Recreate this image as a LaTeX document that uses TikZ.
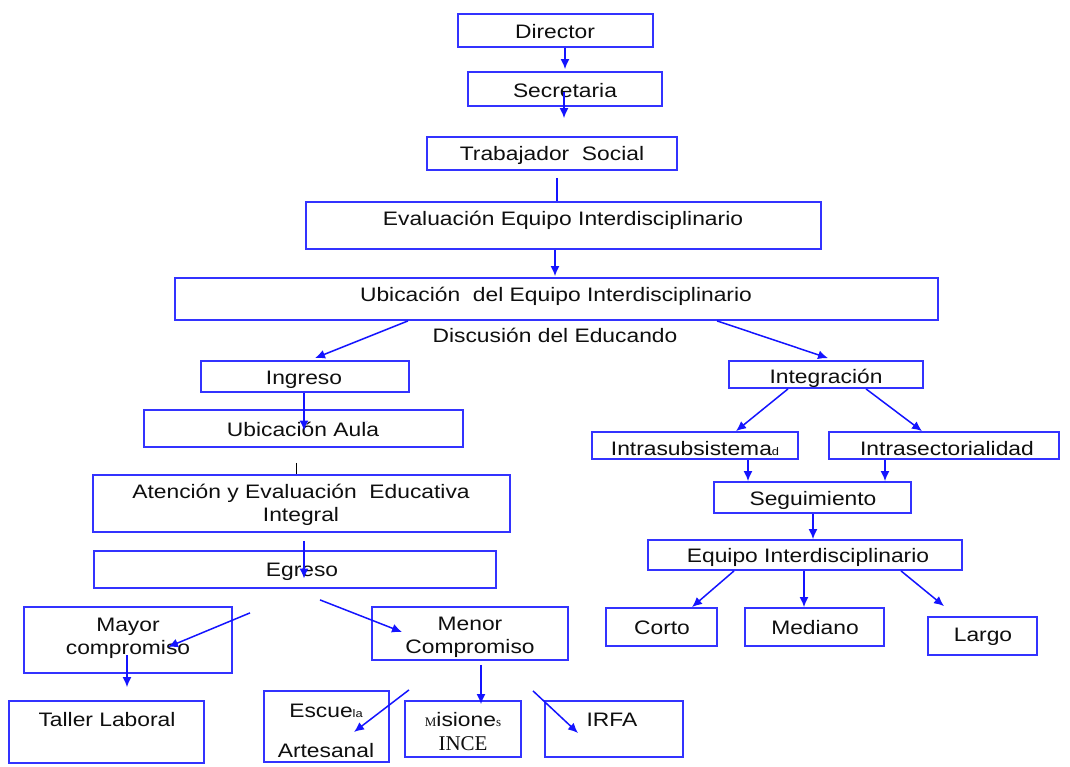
\documentclass[tikz,border=0pt]{standalone}
\usepackage{fontspec}
\setmainfont{Liberation Sans}[FakeStretch=1.17]
\newfontfamily\serifx{Liberation Serif}
\usetikzlibrary{arrows.meta,calc}
\definecolor{boxblue}{RGB}{51,51,255}
\definecolor{arrblue}{RGB}{20,20,255}
\definecolor{txt}{RGB}{15,15,15}
\tikzset{
  box/.style={draw=boxblue, line width=1.8pt, inner sep=0pt, text=txt, align=center,
    font=\fontsize{19.5}{23}\selectfont},
  lbl/.style={inner sep=0pt, text=txt, align=center, font=\fontsize{19.5}{23}\selectfont},
  arr/.style={draw=arrblue, line width=1.5pt, -{Latex[length=10pt,width=9pt]}},
  plain/.style={draw=arrblue, line width=1.5pt},
  blackline/.style={draw=black, line width=0.9pt},
}
\newcommand{\smallsans}[1]{{\fontsize{11}{11}\selectfont #1}}
\newcommand{\smallserif}[1]{{\serifx\fontsize{13}{13}\selectfont #1}}
\begin{document}
\begin{tikzpicture}[x=1pt,y=-1pt]
\useasboundingbox (0,0) rectangle (1070,767);
\fill[white] (0,0) rectangle (1070,767);
% boxes
\node[box, minimum width=195pt, minimum height=33pt] (dir) at (555.5,30.5) {};
\node[lbl] (dirt) at (555,32) {Director};
\node[box, minimum width=194pt, minimum height=34pt] (sec) at (565,89) {};
\node[lbl] (sect) at (565,91) {Secretaria};
\node[box, minimum width=250pt, minimum height=33pt] (ts) at (552,153.5) {};
\node[lbl] (tst) at (552,155) {Trabajador\ \ Social};
\node[box, minimum width=515pt, minimum height=47pt] (ev) at (563.5,225.5) {};
\node[lbl] (evt) at (563,220) {Evaluación Equipo Interdisciplinario};
\node[box, minimum width=763pt, minimum height=42pt] (ub) at (556.5,299) {};
\node[lbl] (ubt) at (556,296) {Ubicación\ \ del Equipo Interdisciplinario};
\node[lbl] (disc) at (555,335) {Discusión del Educando};
\node[box, minimum width=208pt, minimum height=31pt] (ing) at (305,376.5) {};
\node[lbl] (ingt) at (304,380) {Ingreso};
\node[box, minimum width=194pt, minimum height=27pt] (int) at (826,374.5) {};
\node[lbl] (intt) at (826,378) {Integración};
\node[box, minimum width=319pt, minimum height=37pt] (aula) at (303.5,428.5) {};
\node[lbl] (aulat) at (303,429) {Ubicación Aula};
\node[box, minimum width=417pt, minimum height=57pt] (aten) at (301.5,503.5) {};
\node[lbl] (atent) at (301,505) {Atención y Evaluación\ \ Educativa\\Integral};
\node[box, minimum width=402pt, minimum height=37pt] (egr) at (295,569.5) {};
\node[lbl] (egrt) at (302,572) {Egreso};
\node[box, minimum width=208pt, minimum height=66pt] (may) at (128,640) {};
\node[lbl] (mayt) at (128,638) {Mayor\\compromiso};
\node[box, minimum width=196pt, minimum height=53pt] (men) at (470,633.5) {};
\node[lbl] (ment) at (470,637) {Menor\\Compromiso};
\node[box, minimum width=195pt, minimum height=62pt] (tal) at (106.5,732) {};
\node[lbl] (talt) at (107,720) {Taller Laboral};
\node[box, minimum width=125pt, minimum height=71pt] (esc) at (326.5,726.5) {};
\node[lbl] (esct1) at (326,711) {Escue\smallsans{la}};
\node[lbl] (esct2) at (326,751) {Artesanal};
\node[box, minimum width=116pt, minimum height=56pt] (mis) at (463,729) {};
\node[lbl] (mist1) at (463,720) {\smallserif{M}isione\smallserif{s}};
\node[lbl, font=\serifx\fontsize{21}{23}\selectfont] (mist2) at (463,744) {INCE};
\node[box, minimum width=138pt, minimum height=56pt] (irfa) at (614,729) {};
\node[lbl] (irfat) at (612,720) {IRFA};
\node[box, minimum width=206pt, minimum height=27pt] (isub) at (695,445.5) {};
\node[lbl] (isubt) at (695,449) {Intrasubsistema\smallsans{d}};
\node[box, minimum width=230pt, minimum height=27pt] (isec) at (944,445.5) {};
\node[lbl] (isect) at (947,449) {Intrasectorialidad};
\node[box, minimum width=197pt, minimum height=31pt] (seg) at (812.5,497.5) {};
\node[lbl] (segt) at (813,500) {Seguimiento};
\node[box, minimum width=314pt, minimum height=30pt] (eq) at (805,555) {};
\node[lbl] (eqt) at (808,557) {Equipo Interdisciplinario};
\node[box, minimum width=111pt, minimum height=38pt] (corto) at (661.5,627) {};
\node[lbl] (cortot) at (662,628) {Corto};
\node[box, minimum width=139pt, minimum height=38pt] (med) at (814.5,627) {};
\node[lbl] (medt) at (815,628) {Mediano};
\node[box, minimum width=109pt, minimum height=38pt] (largo) at (982.5,636) {};
\node[lbl] (largot) at (983,637) {Largo};
% connectors
\draw[arr] ($(dir.south)+(9.5,0)$) -- ($(sec.north)+(0,-2)$);
\draw[arr] ($(sec.center)+(-1,3)$) -- ($(ts.north)+(12,-18)$);
\draw[plain] ($(ts.south)+(5,7)$) -- ($(ev.north)+(-6.5,0)$);
\draw[arr] ($(ev.south)+(-8.5,0)$) -- ($(ub.north)+(-1.5,-1)$);
\draw[arr] ($(ub.south)+(-148.5,0)$) -- ($(ing.north)+(10,-2)$);
\draw[arr] ($(ub.south)+(160.5,0)$) -- ($(int.north)+(2,-2)$);
\draw[arr] ($(ing.south)+(-1,0)$) -- ($(aula.center)+(0.5,2)$);
\draw[blackline] ($(aula.south)+(-7.5,15)$) -- ($(aten.north)+(-5.5,0)$);
\draw[arr] ($(aten.south)+(2.5,8)$) -- ($(egr.center)+(9,9)$);
\draw[arr] ($(egr.south)+(-45,24)$) -- ($(may.center)+(40,7)$);
\draw[arr] ($(egr.south)+(25,11)$) -- ($(men.center)+(-68,-1.5)$);
\draw[arr] ($(may.center)+(-1,15)$) -- ($(tal.north)+(20.5,-13)$);
\draw[arr] ($(men.south)+(11,4)$) -- ($(mis.north)+(18,4)$);
\draw[arr] ($(men.south)+(-61,29)$) -- ($(esc.center)+(27.5,5.5)$);
\draw[arr] ($(men.south)+(63,30)$) -- ($(irfa.center)+(-36,4)$);
\draw[arr] ($(int.south)+(-38,0)$) -- ($(isub.north)+(41,0)$);
\draw[arr] ($(int.south)+(40,0)$) -- ($(isec.north)+(-22,0)$);
\draw[arr] ($(isub.south)+(53,0)$) -- ($(seg.north)+(-64.5,0)$);
\draw[arr] ($(isec.south)+(-59,0)$) -- ($(seg.north)+(72.5,0)$);
\draw[arr] ($(seg.south)+(0.5,0)$) -- ($(eq.north)+(8,0)$);
\draw[arr] ($(eq.south)+(-71,0)$) -- ($(corto.north)+(30.5,0)$);
\draw[arr] ($(eq.south)+(-1,0)$) -- ($(med.north)+(-10.5,0)$);
\draw[arr] ($(eq.south)+(96,0)$) -- ($(largo.north)+(-38.5,-10)$);
\end{tikzpicture}
\end{document}
